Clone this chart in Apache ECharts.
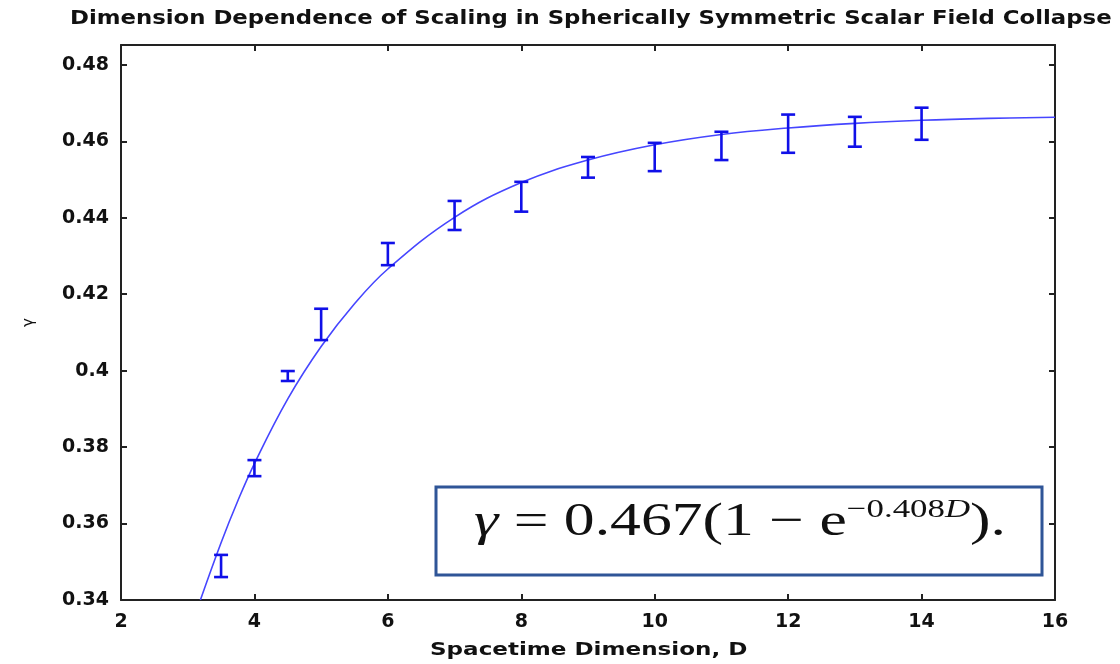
<!DOCTYPE html>
<html>
<head>
<meta charset="utf-8">
<title>Dimension Dependence of Scaling</title>
<script src="https://cdn.jsdelivr.net/npm/echarts@6/dist/echarts.min.js"></script>
<style>
  html, body { margin: 0; padding: 0; background: #fff; }
  #chart { width: 1120px; height: 664px; }
</style>
</head>
<body>
<div id="chart"></div>
<script>
// measured points with error bars
const dims = [3.5, 4, 4.5, 5, 6, 7, 8, 9, 10, 11, 12, 13, 14];
const gammaVals = [0.3489, 0.3745, 0.3986, 0.4121, 0.4305, 0.4406, 0.4455, 0.4532, 0.4559, 0.4588, 0.4620, 0.4625, 0.4646];
const gammaErr = [0.0029, 0.0021, 0.0013, 0.0041, 0.0029, 0.0038, 0.0039, 0.0027, 0.0037, 0.0037, 0.0050, 0.0039, 0.0042];

// fitted curve
const fitD = [3.19, 3.5, 3.75, 4, 4.5, 5, 5.5, 6, 7, 8, 9, 10, 11, 12, 13, 14, 15, 16];
const fitGamma = [0.340, 0.355, 0.3659, 0.3757, 0.3926, 0.4063, 0.4175, 0.4266, 0.4401, 0.4492, 0.4551, 0.4591, 0.4618, 0.4635, 0.4647, 0.4655, 0.4660, 0.4663];

const xTicks = [2, 4, 6, 8, 10, 12, 14, 16];
const yTicks = [0.34, 0.36, 0.38, 0.4, 0.42, 0.44, 0.46, 0.48];

const chart = echarts.init(document.getElementById('chart'));

const barData = dims.map((d, i) => [d, gammaVals[i] - gammaErr[i], gammaVals[i] + gammaErr[i]]);
const fitData = fitD.map((d, i) => [d, fitGamma[i]]);

const labelFont = { color: '#111', fontFamily: 'DejaVu Sans', fontWeight: 'bold', fontSize: 19 };
const frameLine = { show: true, lineStyle: { color: '#222', width: 2 } };
const innerTick = { show: true, inside: true, length: 6, lineStyle: { color: '#222', width: 2 } };

const option = {
  animation: false,
  backgroundColor: '#fff',
  grid: { left: 121, right: 65, top: 45, bottom: 64 },
  xAxis: [{
    type: 'value', min: xTicks[0], max: xTicks[xTicks.length - 1], interval: 2,
    axisLine: frameLine, axisTick: innerTick, splitLine: { show: false },
    axisLabel: Object.assign({ margin: 13 }, labelFont)
  }, {
    type: 'value', position: 'top', min: xTicks[0], max: xTicks[xTicks.length - 1], interval: 2,
    axisLine: frameLine, axisTick: innerTick, splitLine: { show: false },
    axisLabel: { show: false }
  }],
  yAxis: [{
    type: 'value', min: yTicks[0], max: 0.4852, interval: 0.02,
    name: 'γ', nameLocation: 'middle', nameGap: 84, nameRotate: 90,
    nameTextStyle: { fontFamily: 'DejaVu Sans', fontSize: 15, color: '#111' },
    axisLine: frameLine, axisTick: innerTick, splitLine: { show: false },
    axisLabel: Object.assign({
      margin: 12,
      formatter: v => yTicks.some(t => Math.abs(t - v) < 1e-6) ? String(Number(v.toFixed(2))) : ''
    }, labelFont)
  }, {
    type: 'value', position: 'right', min: yTicks[0], max: 0.4852, interval: 0.02,
    axisLine: frameLine, axisTick: innerTick, splitLine: { show: false },
    axisLabel: { show: false }
  }],
  series: [{
    name: 'fit',
    type: 'line',
    data: fitData,
    smooth: 0.4,
    showSymbol: false,
    clip: true,
    lineStyle: { color: '#4646ff', width: 1.6 },
    z: 2
  }, {
    name: 'gamma',
    type: 'custom',
    data: barData,
    encode: { x: 0, y: [1, 2] },
    clip: true,
    z: 3,
    renderItem: function (params, api) {
      const x = api.value(0);
      const top = api.coord([x, api.value(2)]);
      const bot = api.coord([x, api.value(1)]);
      const half = 7;
      const style = { stroke: '#1010e8', lineWidth: 2.6 };
      return {
        type: 'group',
        children: [
          { type: 'line', shape: { x1: top[0], y1: top[1], x2: bot[0], y2: bot[1] }, style: style },
          { type: 'line', shape: { x1: top[0] - half, y1: top[1], x2: top[0] + half, y2: top[1] }, style: style },
          { type: 'line', shape: { x1: bot[0] - half, y1: bot[1], x2: bot[0] + half, y2: bot[1] }, style: style }
        ]
      };
    }
  }],
  graphic: [{
    // title, stretched like the original
    type: 'text',
    x: 70, y: 10,
    scaleX: 1.2,
    style: {
      text: 'Dimension Dependence of Scaling in Spherically Symmetric Scalar Field Collapse',
      fontFamily: 'DejaVu Sans', fontWeight: 'bold', fontSize: 19, fill: '#111'
    }
  }, {
    // x axis title
    type: 'text',
    x: 430, y: 641,
    scaleX: 1.28,
    style: {
      text: 'Spacetime Dimension, D',
      fontFamily: 'DejaVu Sans', fontWeight: 'bold', fontSize: 18, fill: '#111'
    }
  }, {
    type: 'rect',
    shape: { x: 436, y: 487, width: 606, height: 88 },
    style: { fill: '#fff', stroke: '#2f5597', lineWidth: 3 },
    z: 10
  }, {
    type: 'text',
    x: 474,
    y: 497,
    scaleX: 1.34,
    z: 11,
    style: {
      text: '{i|γ} = 0.467(1 − e{s|−0.408}{si|D}).',
      fontFamily: 'Liberation Serif',
      fontSize: 46,
      fill: '#111',
      rich: {
        i: { fontFamily: 'Liberation Serif', fontStyle: 'italic', fontSize: 46 },
        s: { fontFamily: 'Liberation Serif', fontSize: 26, verticalAlign: 'top', padding: [0, 0, 26, 0] },
        si: { fontFamily: 'Liberation Serif', fontStyle: 'italic', fontSize: 26, verticalAlign: 'top', padding: [0, 0, 26, 0] }
      }
    }
  }]
};

chart.setOption(option);
</script>
</body>
</html>
